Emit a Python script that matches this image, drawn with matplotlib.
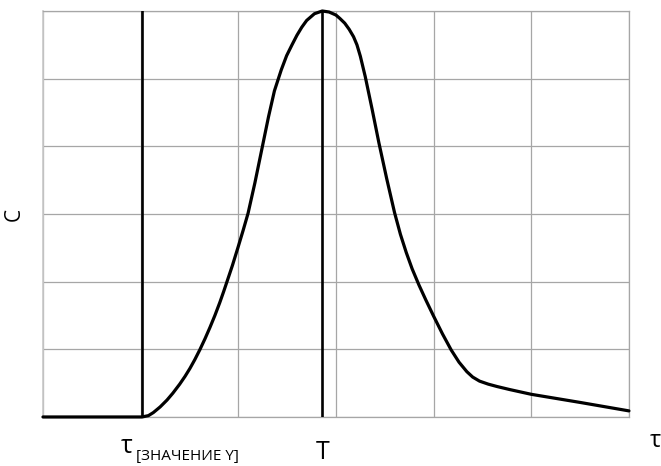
import matplotlib

matplotlib.use("Agg")
import matplotlib.pyplot as plt

# curve (grid units, 6 x 6 cells)
tau = [0.0, 1.014, 1.08, 1.13, 1.20, 1.27, 1.33, 1.40, 1.455, 1.505, 1.555, 1.607,
       1.66, 1.71, 1.76, 1.81, 1.85, 1.884, 1.94, 2.0, 2.05, 2.10, 2.17, 2.24, 2.31,
       2.37, 2.44, 2.495, 2.55, 2.60, 2.65, 2.70, 2.78, 2.86, 2.93, 3.0, 3.04, 3.09,
       3.135, 3.18, 3.215, 3.25, 3.30, 3.37, 3.44, 3.52, 3.60, 3.66, 3.72, 3.78, 3.85,
       3.92, 4.0, 4.09, 4.18, 4.26, 4.34, 4.40, 4.47, 4.56, 4.65, 4.78, 5.0, 5.5, 6.0]
conc = [0.0, 0.0, 0.02, 0.065, 0.149, 0.25, 0.352, 0.485, 0.601, 0.718, 0.848, 0.996,
        1.159, 1.324, 1.499, 1.689, 1.853, 1.999, 2.24, 2.52, 2.76, 3.01, 3.46, 3.95, 4.44,
        4.82, 5.13, 5.34, 5.50, 5.64, 5.76, 5.86, 5.96, 6.0, 5.985, 5.94, 5.89, 5.82,
        5.73, 5.62, 5.50, 5.33, 5.03, 4.55, 4.05, 3.52, 3.02, 2.70, 2.43, 2.19, 1.95,
        1.73, 1.49, 1.23, 0.99, 0.81, 0.67, 0.59, 0.53, 0.485, 0.45, 0.405, 0.335, 0.215, 0.09]
tau_start = 1.01
t_peak = 2.86

grid_color = "#a6a6a6"

fig = plt.figure(figsize=(6.61, 4.66), dpi=100)
ax = fig.add_axes([0.065, 0.1052, 0.8865, 0.8712])
ax.set_xlim(0, 6)
ax.set_ylim(0, 6)
ax.set_xticks(range(7))
ax.set_yticks(range(7))
ax.tick_params(length=0, labelbottom=False, labelleft=False)
ax.grid(True, color=grid_color, linewidth=0.9)
for side in ["top", "right", "bottom"]:
    ax.spines[side].set_color(grid_color)
    ax.spines[side].set_linewidth(0.9)
ax.spines["left"].set_color("#c8c8c8")
ax.spines["left"].set_linewidth(1.2)

ax.plot(tau, conc, color="black", linewidth=2.3, solid_capstyle="round",
        solid_joinstyle="round", clip_on=False, zorder=4)
ax.axvline(tau_start, color="black", linewidth=1.9, zorder=3)
ax.axvline(t_peak, color="black", linewidth=1.9, zorder=3)

font = "Open Sans"
ax.set_ylabel("C", fontsize=15, family=font, labelpad=13)
ax.text(t_peak, -0.52, "T", fontsize=18, family=font, ha="center", va="center", clip_on=False)
ax.text(6.27, -0.36, "τ", fontsize=17, family=font, ha="center", va="center", clip_on=False)
ax.text(0.86, -0.44, "τ", fontsize=18, family=font, ha="center", va="center", clip_on=False)
ax.text(0.95, -0.59, "[ЗНАЧЕНИЕ Y]", fontsize=11, family=font, ha="left", va="center",
        clip_on=False)

fig.savefig("out.png", dpi=100)
plt.close(fig)
